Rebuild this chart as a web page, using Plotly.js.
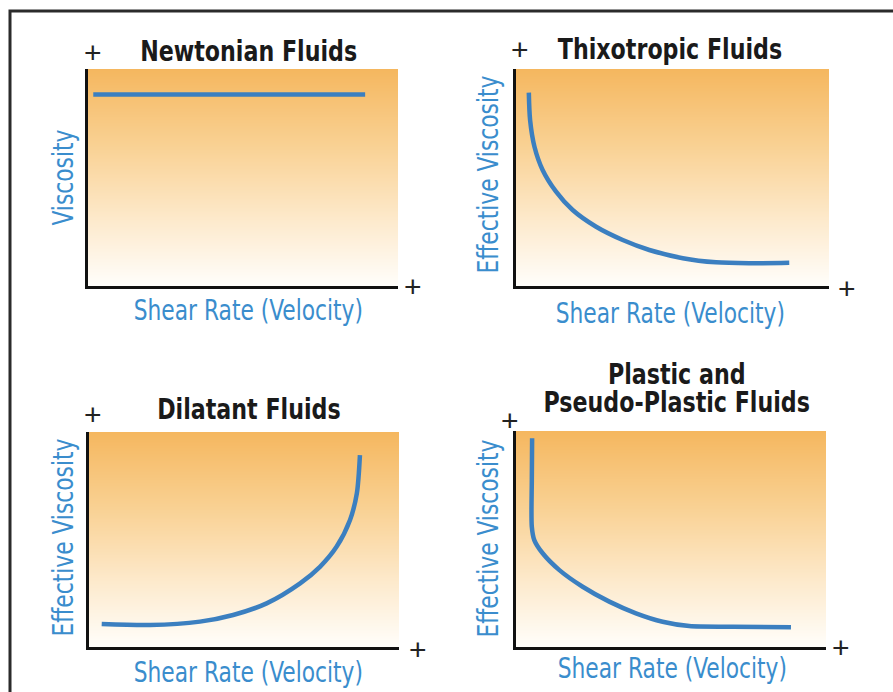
<!DOCTYPE html>
<html>
<head>
<meta charset="utf-8">
<script src="https://cdn.plot.ly/plotly-3.0.1.min.js"></script>
<style>html,body{margin:0;padding:0;background:#fff;}#chart{width:893px;height:692px;}</style>
</head>
<body>
<div id="chart"></div>
<script>
// ---- data (arbitrary 0-100 units, qualitative curves) ----
const panelTitles = ["Newtonian Fluids", "Thixotropic Fluids", "Dilatant Fluids", "Plastic and<br>Pseudo-Plastic Fluids"];
const yAxisLabels = ["Viscosity", "Effective Viscosity", "Effective Viscosity", "Effective Viscosity"];
const xAxisLabel = "Shear Rate (Velocity)";

const newtonianX = [1.7, 30, 60, 89.4];
const newtonianY = [88.3, 88.3, 88.3, 88.3];

const thixotropicX = [4.1, 4.5, 5.9, 8.5, 12.8, 18.1, 25.6, 34.1, 42.6, 53.3, 63.9, 74.5, 87.3];
const thixotropicY = [89.1, 76.5, 64.2, 53.5, 43.5, 35.0, 27.3, 21.2, 16.6, 12.8, 10.9, 10.5, 10.7];

const dilatantX = [4.1, 19.7, 35.8, 46.5, 57.3, 68.1, 74.5, 79.9, 84.2, 86.4, 87.4];
const dilatantY = [10.7, 10.2, 11.8, 14.9, 20.3, 29.6, 37.3, 46.7, 59.1, 71.5, 89.3];

const plasticX = [5.2, 5.1, 5.1, 5.9, 8.6, 14.0, 21.5, 30.1, 38.7, 47.3, 55.9, 69.9, 88.7];
const plasticY = [96.6, 77.3, 55.7, 49.5, 43.4, 35.6, 27.9, 21.0, 15.6, 11.7, 9.7, 9.4, 9.1];

const gradientLevels = [0, 25, 50, 75, 100];

// ---- layout helpers (pixel -> paper) ----
const W = 893, H = 692;
const px = v => v / W;
const py = v => 1 - v / H;

// plot areas in pixels: [left, right, top, bottom]
const boxes = [
  [88, 398, 69, 286],
  [516, 829, 69, 286],
  [89, 399, 432, 647],
  [516, 826, 431, 647]
];

const lineColor = "#3b7fc0";
const labelBlue = "#3a8dcd";
const narrow = "Liberation Sans Narrow, DejaVu Sans Condensed, Arial Narrow, sans-serif";

const curves = [
  [newtonianX, newtonianY],
  [thixotropicX, thixotropicY],
  [dilatantX, dilatantY],
  [plasticX, plasticY]
];

const traces = [];
const layout = {
  width: W, height: H,
  margin: {l: 0, r: 0, t: 0, b: 0},
  paper_bgcolor: "#ffffff",
  plot_bgcolor: "rgba(0,0,0,0)",
  showlegend: false,
  annotations: [],
  shapes: [{
    type: "rect", xref: "paper", yref: "paper",
    x0: px(10), x1: 1.05, y0: -0.05, y1: py(11),
    line: {color: "#2b2b2b", width: 3}, fillcolor: "rgba(0,0,0,0)", layer: "above"
  }]
};

boxes.forEach((b, i) => {
  const n = i === 0 ? "" : String(i + 1);
  const xa = "x" + n, ya = "y" + n;
  layout["xaxis" + n] = {
    domain: [px(b[0]), px(b[1])], range: [0, 100], anchor: ya,
    showgrid: false, zeroline: false, showticklabels: false, ticks: "",
    showline: true, linecolor: "#111111", linewidth: 3, fixedrange: true
  };
  layout["yaxis" + n] = {
    domain: [py(b[3]), py(b[2])], range: [0, 100], anchor: xa,
    showgrid: false, zeroline: false, showticklabels: false, ticks: "",
    showline: true, linecolor: "#111111", linewidth: 3, fixedrange: true
  };
  traces.push({
    type: "heatmap", xaxis: xa, yaxis: ya,
    x: [0, 100], y: gradientLevels,
    z: gradientLevels.map(v => [v, v]),
    zmin: 0, zmax: 100, zsmooth: "best", showscale: false, hoverinfo: "skip",
    colorscale: [[0, "#fffefb"], [0.3, "#fdeacd"], [0.65, "#f9d193"], [1, "#f5b75f"]]
  });
  traces.push({
    type: "scatter", mode: "lines", xaxis: xa, yaxis: ya,
    x: curves[i][0], y: curves[i][1],
    line: {color: lineColor, width: 4.5, shape: "spline", smoothing: 0.8},
    hoverinfo: "skip"
  });
});

// text annotations (sx = horizontal condensing applied after render)
const annScale = [];
function ann(text, x, y, sx, opts) {
  layout.annotations.push(Object.assign({
    text: text, xref: "paper", yref: "paper", x: px(x), y: py(y),
    xanchor: "center", yanchor: "middle", showarrow: false
  }, opts));
  annScale.push(sx);
}
const titleFont = {family: narrow, size: 29, color: "#1a1a1a", weight: "bold"};
ann("<b>" + panelTitles[0] + "</b>", 248, 51, 0.85, {font: titleFont});
ann("<b>" + panelTitles[1] + "</b>", 670, 49, 0.85, {font: titleFont});
ann("<b>" + panelTitles[2] + "</b>", 249, 409, 0.85, {font: titleFont});
const twoLineIndex = layout.annotations.length;
ann("<b>" + panelTitles[3] + "</b>", 676, 393, 0.85, {font: titleFont});

const axFont = {family: narrow, size: 29, color: labelBlue};
ann(xAxisLabel, 248, 310, 0.835, {font: axFont});
ann(xAxisLabel, 670, 313, 0.835, {font: axFont});
ann(xAxisLabel, 248, 672, 0.835, {font: axFont});
ann(xAxisLabel, 672, 668, 0.835, {font: axFont});
ann(yAxisLabels[0], 63, 177, 0.835, {font: axFont, textangle: -90});
ann(yAxisLabels[1], 488, 174, 0.835, {font: axFont, textangle: -90});
ann(yAxisLabels[2], 63, 537, 0.835, {font: axFont, textangle: -90});
ann(yAxisLabels[3], 488, 538, 0.835, {font: axFont, textangle: -90});

const plusFont = {family: "Liberation Sans, Arial, sans-serif", size: 30, color: "#222222"};
[[93, 52], [413, 286], [520, 50], [847, 288], [93, 414], [418, 649], [510, 420], [841, 647]]
  .forEach(p => ann("+", p[0], p[1], 1, {font: plusFont}));

Plotly.newPlot("chart", traces, layout, {staticPlot: true, displayModeBar: false}).then(gd => {
  gd.querySelectorAll("g.annotation").forEach(g => {
    const idx = +g.getAttribute("data-index");
    const t = g.querySelector("text.annotation-text");
    if (!t) return;
    if (idx === twoLineIndex) {
      const lines = t.querySelectorAll("tspan.line");
      if (lines.length > 1) lines[1].setAttribute("dy", (28 / 29) + "em");
    }
    const sx = annScale[idx];
    if (sx && sx !== 1) {
      const bb = t.getBBox();
      const cx = bb.x + bb.width / 2;
      t.setAttribute("transform", "translate(" + cx + ",0) scale(" + sx + ",1) translate(" + (-cx) + ",0)");
    }
  });
});
</script>
</body>
</html>
